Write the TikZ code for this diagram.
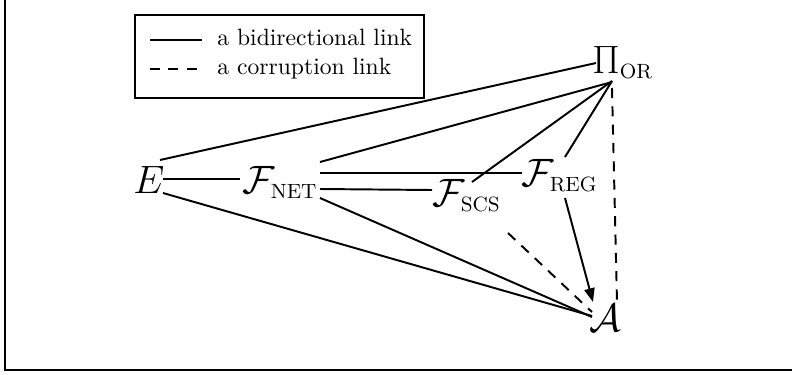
\documentclass[tikz,border=0pt]{standalone}
\usetikzlibrary{calc,arrows.meta}
\begin{document}
\begin{tikzpicture}[x=0.4367pt,y=-0.4367pt,
  sym/.style={inner sep=0pt,anchor=base west,font=\fontsize{19}{23}\selectfont},
  leg/.style={inner sep=0pt,anchor=base west,font=\fontsize{10.3}{12.5}\selectfont},
  link/.style={line width=0.85pt},
  corrupt/.style={line width=0.85pt,dash pattern=on 4.4pt off 3.6pt},
  arr/.style={line width=0.85pt,-{Triangle[length=6pt,width=4.5pt]}}]
\useasboundingbox (0,0) rectangle (792,374);
% frame (only left and bottom edges visible)
\draw[line width=0.5pt] (5,0) -- (5,370) -- (792,370);
% legend
\node[draw,line width=0.5pt,minimum width=289*0.4367pt,minimum height=83*0.4367pt,inner sep=0pt] (legbox) at (279.5,56.5) {};
\coordinate (l1a) at (150,40); \coordinate (l1b) at (202,40);
\coordinate (l2a) at (150,69); \coordinate (l2b) at (202,69);
\draw[link] (l1a) -- (l1b);
\draw[corrupt] (l2a) -- (l2b);
\node[leg] (t1) at (217,45) {a bidirectional link};
\node[leg] (t2) at (217,74) {a corruption link};
% nodes
\node[sym] (E) at (133,193) {$E$};
\node[sym] (N) at (242,193) {$\mathcal{F}_{\scriptscriptstyle\mathrm{NET}}$};
\node[sym] (S) at (432,206) {$\mathcal{F}_{\scriptscriptstyle\mathrm{SCS}}$};
\node[sym] (R) at (521,186) {$\mathcal{F}_{\scriptscriptstyle\mathrm{REG}}$};
\node[sym] (P) at (592,73) {$\Pi_{\scriptscriptstyle\mathrm{OR}}$};
\node[sym] (A) at (589,331) {$\mathcal{A}$};
% links
\draw[link] ($(E.base west)+(27,-33)$) -- ($(P.base west)+(4,-10)$);
\draw[link] ($(E.base west)+(30,-14)$) -- ($(N.base west)+(-2,-14)$);
\draw[link] ($(E.base west)+(30,0)$) -- ($(A.base west)+(3,-15)$);
\draw[link] ($(N.base west)+(78,-31)$) -- ($(P.base west)+(20,9)$);
\draw[link] ($(N.base west)+(78,-20)$) -- ($(R.base west)+(1,-13)$);
\draw[link] ($(N.base west)+(78,-4)$) -- ($(S.base west)+(0,-16)$);
\draw[link] ($(N.base west)+(78,5)$) -- ($(A.base west)+(3,-14)$);
\draw[link] ($(S.base west)+(40,-24)$) -- ($(P.base west)+(20,8)$);
\draw[link] ($(R.base west)+(44,-29)$) -- ($(P.base west)+(20,8)$);
\draw[arr] ($(R.base west)+(44,12)$) -- ($(A.base west)+(4,-29)$);
\draw[corrupt] ($(S.base west)+(76,27)$) -- ($(A.base west)+(3,-19)$);
\draw[corrupt] ($(P.base west)+(20,15)$) -- ($(A.base west)+(28,-29)$);
\end{tikzpicture}
\end{document}
